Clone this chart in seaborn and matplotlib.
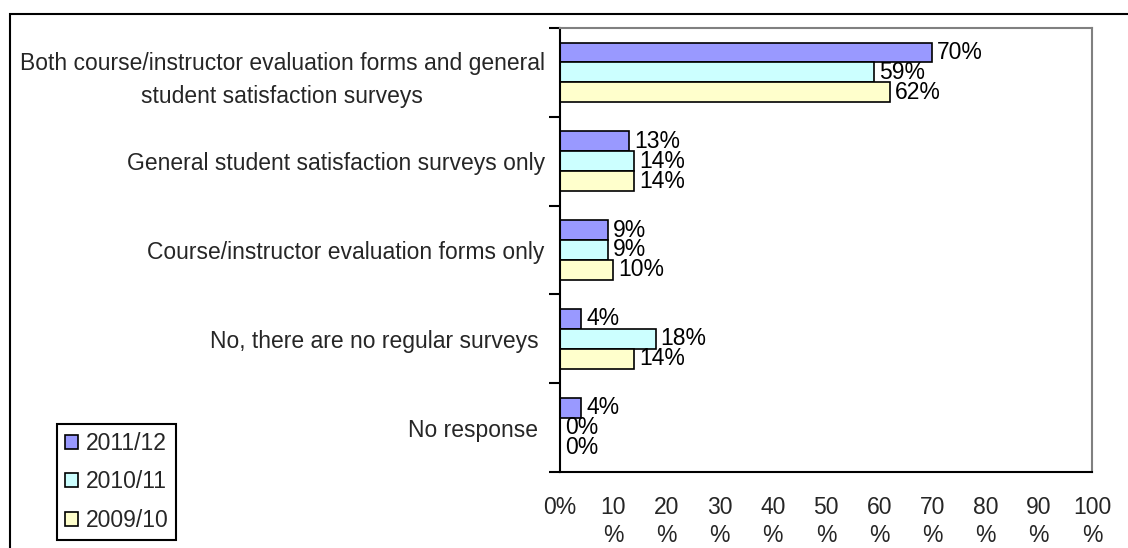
import matplotlib
matplotlib.use("Agg")
import matplotlib.pyplot as plt
import matplotlib.patches as mpatches
from matplotlib.ticker import FixedLocator
import seaborn as sns
import pandas as pd

categories = [
    "Both course/instructor evaluation forms and general\nstudent satisfaction surveys",
    "General student satisfaction surveys only",
    "Course/instructor evaluation forms only",
    "No, there are no regular surveys ",
    "No response ",
]
series_names = ["2011/12", "2010/11", "2009/10"]
values_2011_12 = [70, 13, 9, 4, 4]
values_2010_11 = [59, 14, 9, 18, 0]
values_2009_10 = [62, 14, 10, 14, 0]
colors = ["#9999FF", "#CCFFFF", "#FFFFCC"]
x_ticks = [0, 10, 20, 30, 40, 50, 60, 70, 80, 90, 100]
x_tick_labels = ["0%", "10\n%", "20\n%", "30\n%", "40\n%", "50\n%",
                 "60\n%", "70\n%", "80\n%", "90\n%", "100\n%"]

rows = []
for name, vals in zip(series_names, [values_2011_12, values_2010_11, values_2009_10]):
    for c, v in zip(categories, vals):
        rows.append({"category": c, "series": name, "value": v})
df = pd.DataFrame(rows)

sns.set_style("white")
plt.rcParams["font.family"] = ["Liberation Sans", "DejaVu Sans"]
FS = 16.5

W, H = 1128, 548
fig = plt.figure(figsize=(W / 100, H / 100), dpi=100)
ax = fig.add_axes([560 / W, 1 - 472 / H, (1092 - 560) / W, (472 - 28) / H])

sns.barplot(data=df, y="category", x="value", hue="series", order=categories,
            hue_order=series_names, palette=colors, saturation=1, width=0.67,
            edgecolor="black", linewidth=1.2, orient="h", legend=False, ax=ax)

for cont, vals in zip(ax.containers, [values_2011_12, values_2010_11, values_2009_10]):
    ax.bar_label(cont, labels=[f"{v}%" for v in vals], padding=3.5, fontsize=FS, color="black")

ax.set_xlim(0, 100)
ax.set_ylim(len(categories) - 0.5, -0.5)
ax.set_xticks(x_ticks)
ax.set_xticklabels(x_tick_labels, fontsize=FS, linespacing=1.3)
ax.tick_params(axis="x", direction="out", length=8, width=1.5, color="black", pad=9)
ax.set_yticks(range(len(categories)))
ax.set_yticklabels(categories, fontsize=FS, linespacing=1.55, multialignment="center")
ax.tick_params(axis="y", which="major", length=0, pad=11)
ax.yaxis.set_minor_locator(FixedLocator([i - 0.5 for i in range(len(categories) + 1)]))
ax.tick_params(axis="y", which="minor", direction="out", length=8, width=1.5, color="black", left=True)
ax.set_xlabel("")
ax.set_ylabel("")

for s in ["left", "bottom"]:
    ax.spines[s].set_color("black")
    ax.spines[s].set_linewidth(1.5)
for s in ["top", "right"]:
    ax.spines[s].set_color("#808080")
    ax.spines[s].set_linewidth(1.5)

handles = [mpatches.Patch(facecolor=c, edgecolor="black", linewidth=1.2, label=n)
           for c, n in zip(colors, series_names)]
leg = fig.legend(handles=handles, loc="lower left",
                 bbox_to_anchor=(57 / W, 1 - 540 / H), fontsize=FS,
                 handlelength=0.55, handleheight=0.55, handletextpad=0.35,
                 labelspacing=0.68, borderpad=0.35, borderaxespad=0,
                 fancybox=False, framealpha=1, edgecolor="black")
leg.get_frame().set_linewidth(1.5)

frame = mpatches.Rectangle((10 / W, -0.1), 1.5, (1 - 14 / H) + 0.1,
                           transform=fig.transFigure, fill=False,
                           edgecolor="black", linewidth=1.5, clip_on=False)
fig.patches.append(frame)

fig.savefig("out.png", dpi=100, facecolor="white")
